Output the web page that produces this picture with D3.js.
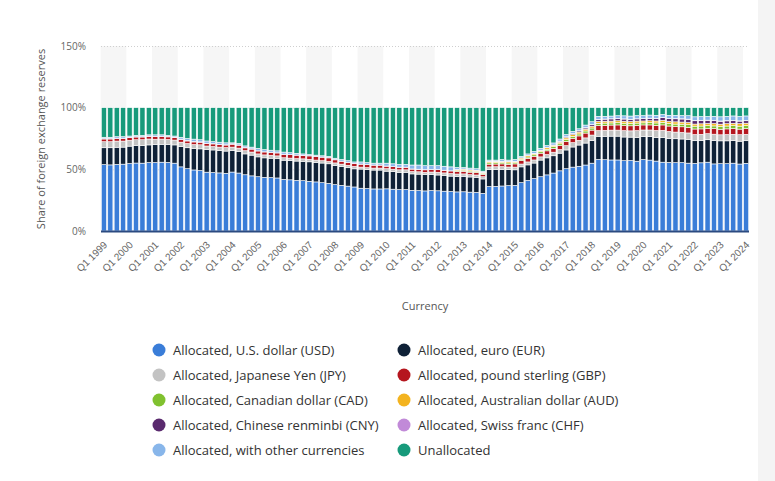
<!DOCTYPE html>
<html>
<head>
<meta charset="utf-8">
<script src="https://cdn.jsdelivr.net/npm/d3@7"></script>
<style>
  html, body { margin: 0; padding: 0; background: #fff; }
  svg { display: block; font-family: "Open Sans", "DejaVu Sans", sans-serif; }
</style>
</head>
<body>
<svg id="chart" width="775" height="481"></svg>
<script>
// ---------- DATA (share of total foreign exchange reserves, %) ----------
const years = [1999,2000,2001,2002,2003,2004,2005,2006,2007,2008,2009,2010,2011,2012,2013,2014,2015,2016,2017,2018,2019,2020,2021,2022,2023,2024];
const quarters = ["Q1","Q2","Q3","Q4"];
const tickLabels = ["Q1 1999","Q1 2000","Q1 2001","Q1 2002","Q1 2003","Q1 2004","Q1 2005","Q1 2006","Q1 2007","Q1 2008","Q1 2009","Q1 2010","Q1 2011","Q1 2012","Q1 2013","Q1 2014","Q1 2015","Q1 2016","Q1 2017","Q1 2018","Q1 2019","Q1 2020","Q1 2021","Q1 2022","Q1 2023","Q1 2024"];
const yTicks = [0, 50, 100, 150];

const usd = [
53.8,53.6,54.0,54.2, 54.7,55.1,55.0,55.5, 55.5,55.8,55.6,55.0, 52.0,50.5,49.5,49.0,
47.7,47.4,47.1,46.8, 47.8,47.0,45.6,44.7, 44.0,43.5,43.3,43.0, 41.8,41.5,41.0,40.8,
40.3,39.8,39.2,38.6, 37.6,37.0,36.4,35.7, 34.7,34.4,34.1,34.1, 34.2,33.9,33.6,33.6,
33.0,32.8,32.5,32.8, 32.6,32.3,32.0,31.7, 31.8,31.5,31.3,30.5, 36.0,36.2,36.5,36.8,
37.0,39.2,41.0,42.5, 44.0,45.5,47.0,48.8, 50.5,51.8,52.5,53.5, 55.0,58.0,57.8,57.6,
57.6,57.0,57.2,56.6, 57.9,57.5,56.7,55.8, 55.6,55.4,55.5,55.0, 54.8,55.3,55.8,54.4,
54.6,54.6,55.0,54.3, 54.9];
const eur = [
13.7,13.9,13.9,13.8, 14.1,14.2,14.3,14.3, 14.6,14.5,14.6,14.8, 16.5,17.0,17.3,17.6,
18.4,18.3,18.1,18.0, 17.5,17.5,16.9,16.8, 16.1,15.8,15.7,15.6, 15.6,15.6,15.7,15.7,
15.8,15.8,15.9,15.9, 15.5,15.2,14.9,14.7, 15.5,15.4,15.3,15.3, 14.3,14.2,14.0,14.0,
13.3,13.3,13.2,13.1, 12.8,12.7,12.5,12.4, 12.5,12.3,12.2,11.7, 13.8,13.7,13.5,13.0,
12.6,12.8,12.6,12.6, 13.5,13.8,14.0,14.3, 15.2,16.3,17.2,17.8, 18.4,18.8,19.0,19.3,
19.3,19.2,18.9,19.3, 18.7,19.0,19.2,20.1, 19.5,19.4,19.1,19.3, 18.4,18.2,18.2,19.0,
18.5,18.5,18.3,18.5, 18.3];
const jpy = [
4.9,4.9,5.0,4.9, 4.7,4.7,4.7,4.8, 4.3,4.2,4.0,3.9, 3.5,3.4,3.3,3.3,
2.8,2.8,2.8,2.8, 2.7,2.7,2.6,2.5, 2.4,2.4,2.4,2.3, 2.0,2.0,2.0,2.0,
2.0,1.9,1.9,1.9, 2.1,2.0,2.0,2.0, 1.6,1.6,1.6,1.6, 2.0,2.0,2.0,2.0,
1.9,1.9,1.9,1.9, 2.2,2.1,2.1,2.1, 2.0,1.9,1.9,1.8, 2.2,2.2,2.2,2.1,
2.2,2.3,2.4,2.5, 2.6,2.7,2.9,3.0, 3.5,3.6,3.8,4.2, 4.4,4.6,4.8,4.9,
4.9,5.2,5.1,5.5, 5.3,5.4,5.6,5.7, 5.6,5.4,5.3,5.2, 5.0,4.9,4.9,5.1,
4.9,5.1,5.1,5.3, 5.2];
const gbp = [
2.2,2.2,2.2,2.2, 2.2,2.2,2.2,2.2, 2.2,2.2,2.1,2.1, 2.2,2.1,2.1,2.1,
2.1,2.1,2.1,2.1, 2.4,2.4,2.3,2.4, 2.4,2.4,2.4,2.4, 2.8,2.8,2.8,2.8,
2.8,2.9,2.9,2.9, 2.5,2.4,2.4,2.4, 2.4,2.4,2.4,2.4, 2.1,2.1,2.1,2.1,
2.0,2.0,2.0,2.0, 2.1,2.1,2.1,2.1, 2.1,2.0,2.0,1.9, 2.2,2.2,2.2,2.2,
2.6,2.8,2.9,3.0, 3.0,3.0,3.1,3.2, 3.4,3.5,3.6,3.9, 4.0,4.1,4.1,4.1,
4.2,4.2,4.1,4.3, 4.1,4.1,4.2,4.4, 4.4,4.5,4.6,4.5, 4.5,4.4,4.2,4.5,
4.5,4.6,4.6,4.5, 4.6];
const cad = [
0,0,0,0, 0,0,0,0, 0,0,0,0, 0,0,0,0,
0,0,0,0, 0,0,0,0, 0,0,0,0, 0,0,0,0,
0,0,0,0, 0,0,0,0, 0,0,0,0, 0,0,0,0,
0,0,0,0, 0,0,0,0.7, 0.9,0.9,0.9,0.9, 1.1,1.1,1.1,1.1,
1.0,1.1,1.1,1.2, 1.2,1.3,1.4,1.4, 1.5,1.5,1.6,1.7, 1.7,1.8,1.8,1.7,
1.8,1.8,1.8,1.8, 1.7,1.8,1.9,2.0, 2.0,2.0,2.1,2.2, 2.3,2.3,2.3,2.2,
2.2,2.3,2.4,2.4, 2.4];
const aud = [
0,0,0,0, 0,0,0,0, 0,0,0,0, 0,0,0,0,
0,0,0,0, 0,0,0,0, 0,0,0,0, 0,0,0,0,
0,0,0,0, 0,0,0,0, 0,0,0,0, 0,0,0,0,
0,0,0,0, 0,0,0,0.8, 0.9,0.9,0.9,0.8, 1.0,1.0,1.0,1.0,
1.0,1.0,1.1,1.1, 1.1,1.2,1.2,1.3, 1.4,1.4,1.5,1.5, 1.5,1.5,1.5,1.5,
1.6,1.6,1.6,1.6, 1.5,1.6,1.6,1.7, 1.7,1.8,1.7,1.7, 1.7,1.8,1.8,1.9,
1.9,1.9,1.9,2.0, 2.0];
const cny = [
0,0,0,0, 0,0,0,0, 0,0,0,0, 0,0,0,0,
0,0,0,0, 0,0,0,0, 0,0,0,0, 0,0,0,0,
0,0,0,0, 0,0,0,0, 0,0,0,0, 0,0,0,0,
0,0,0,0, 0,0,0,0, 0,0,0,0, 0,0,0,0,
0,0,0,0, 0,0,0,0.8, 0.8,0.9,1.0,1.0, 1.2,1.7,1.7,1.8,
1.8,1.8,1.8,1.8, 1.9,1.9,2.0,2.2, 2.3,2.5,2.5,2.6, 2.7,2.6,2.5,2.5,
2.4,2.3,2.2,2.1, 2.0];
const chf = [
0.2,0.2,0.2,0.2, 0.2,0.2,0.2,0.2, 0.2,0.2,0.2,0.2, 0.3,0.3,0.3,0.3,
0.2,0.2,0.2,0.2, 0.2,0.2,0.2,0.2, 0.1,0.1,0.1,0.1, 0.1,0.1,0.1,0.1,
0.1,0.1,0.1,0.1, 0.1,0.1,0.1,0.1, 0.1,0.1,0.1,0.1, 0.1,0.1,0.1,0.1,
0.1,0.1,0.1,0.1, 0.1,0.1,0.1,0.1, 0.1,0.1,0.1,0.1, 0.1,0.1,0.1,0.1,
0.1,0.1,0.1,0.1, 0.1,0.2,0.1,0.1, 0.1,0.1,0.1,0.2, 0.2,0.1,0.1,0.1,
0.1,0.1,0.1,0.1, 0.1,0.2,0.2,0.2, 0.2,0.2,0.2,0.2, 0.2,0.2,0.2,0.2,
0.2,0.2,0.2,0.2, 0.2];
const other = [
1.2,1.2,1.2,1.2, 1.1,1.1,1.1,1.0, 1.2,1.1,1.0,1.0, 1.5,1.7,2.0,1.7,
1.8,1.7,1.7,1.6, 0.9,1.2,1.4,1.4, 2.0,1.8,1.6,1.6, 1.7,1.5,1.4,1.1,
1.0,1.0,1.0,1.1, 1.2,1.3,1.2,1.1, 1.7,1.6,1.5,1.5, 2.3,2.2,2.2,2.2,
3.2,3.4,3.3,3.1, 3.2,3.2,3.2,1.6, 1.2,1.4,1.2,0.8, 1.1,1.0,1.4,1.2,
1.5,1.2,1.3,1.5, 1.5,1.6,1.7,1.7, 1.8,1.7,1.6,2.1, 2.2,2.4,2.2,2.2,
2.2,2.5,2.6,2.6, 2.4,2.5,2.4,2.4, 2.5,2.6,2.6,2.8, 3.0,3.1,3.0,3.2,
3.4,3.5,3.6,3.6, 3.7];
const unallocated = [
24.0,24.0,23.5,23.5, 23.0,22.5,22.5,22.0, 22.0,22.0,22.5,23.0, 24.0,25.0,25.5,26.0,
27.0,27.5,28.0,28.5, 28.5,29.0,31.0,32.0, 33.0,34.0,34.5,35.0, 36.0,36.5,37.0,37.5,
38.0,38.5,39.0,39.5, 41.0,42.0,43.0,44.0, 44.0,44.5,45.0,45.0, 45.0,45.5,46.0,46.0,
46.5,46.5,47.0,47.0, 47.0,47.5,48.0,48.5, 48.5,49.0,49.5,51.5, 42.5,42.5,42.0,42.5,
42.0,39.5,37.5,35.5, 33.0,30.7,28.6,25.4, 21.8,19.2,17.1,14.1, 11.4,7.0,7.0,6.8,
6.5,6.6,6.8,6.4, 6.4,6.0,6.2,5.5, 6.2,6.2,6.4,6.5, 7.4,7.2,7.1,7.0,
7.4,7.0,6.7,7.1, 6.7];

const seriesNames = [
  "Allocated, U.S. dollar (USD)", "Allocated, euro (EUR)",
  "Allocated, Japanese Yen (JPY)", "Allocated, pound sterling (GBP)",
  "Allocated, Canadian dollar (CAD)", "Allocated, Australian dollar (AUD)",
  "Allocated, Chinese renminbi (CNY)", "Allocated, Swiss franc (CHF)",
  "Allocated, with other currencies", "Unallocated"];
const seriesValues = [usd, eur, jpy, gbp, cad, aud, cny, chf, other, unallocated];
const seriesColors = ["#3a7dd8","#0f2137","#c3c3c3","#b5161e","#80c12f","#f3b31f","#5a2a6e","#c18ad8","#88b6ea","#179a7b"];

// categories: "Q1 1999" ... "Q1 2024"
const categories = [];
years.forEach(y => quarters.forEach(q => { if (categories.length < usd.length) categories.push(q + " " + y); }));

// ---------- TABLE ----------
const keys = seriesNames.map((n, i) => "s" + i);
const table = categories.map((c, i) => {
  const row = { cat: c };
  keys.forEach((k, j) => row[k] = seriesValues[j][i]);
  return row;
});

// ---------- CHART ----------
const svg = d3.select("#chart");
const plot = { left: 101, right: 749, top: 46, bottom: 231 };

const x = d3.scaleBand().domain(categories).range([plot.left, plot.right]).paddingInner(0.2).paddingOuter(0.05);
const y = d3.scaleLinear().domain([0, 150]).range([plot.bottom, plot.top]);

// right gray strip of the screenshot
svg.append("rect").attr("x", 758).attr("y", 0).attr("width", 17).attr("height", 481).attr("fill", "#f4f4f4");

// alternating year bands
const step = x.step();
const halfGap = step * x.paddingInner() / 2;
years.forEach((yr, j) => {
  if (j % 2 !== 0) return;
  const first = categories[j * 4];
  const lastIdx = Math.min(j * 4 + 3, categories.length - 1);
  const last = categories[lastIdx];
  if (!first) return;
  svg.append("rect")
    .attr("x", x(first) - halfGap)
    .attr("y", y(150))
    .attr("width", x(last) + x.bandwidth() + halfGap - (x(first) - halfGap))
    .attr("height", y(0) - y(150))
    .attr("fill", "#f6f6f6");
});

// gridlines (dotted)
svg.append("g").selectAll("line").data(yTicks.filter(t => t > 0)).join("line")
  .attr("x1", plot.left).attr("x2", plot.right)
  .attr("y1", d => y(d) + 0.5).attr("y2", d => y(d) + 0.5)
  .attr("stroke", "#cfcfcf").attr("stroke-dasharray", "1,2").attr("stroke-width", 1);

// stacked bars
const stack = d3.stack().keys(keys).order(d3.stackOrderNone).offset(d3.stackOffsetNone);
const stacked = stack(table);
svg.append("g").selectAll("g").data(stacked).join("g")
  .attr("fill", (d, i) => seriesColors[i])
  .selectAll("rect").data(d => d.filter(p => p[1] - p[0] > 0)).join("rect")
  .attr("x", d => x(d.data.cat))
  .attr("width", x.bandwidth())
  .attr("y", d => y(d[1]))
  .attr("height", d => Math.max(0, y(d[0]) - y(d[1])))
  .attr("stroke", "#ffffff").attr("stroke-width", 0.6);

// baseline axis
svg.append("line")
  .attr("x1", plot.left).attr("x2", plot.right)
  .attr("y1", y(0) + 0.5).attr("y2", y(0) + 0.5)
  .attr("stroke", "#2b4a80").attr("stroke-width", 2);

// y axis labels
const yAxis = d3.axisLeft(y).tickValues(yTicks).tickFormat(d => d + "%").tickSize(0).tickPadding(0);
const yg = svg.append("g").attr("transform", `translate(86,0)`).call(yAxis);
yg.select(".domain").remove();
yg.selectAll("text").attr("fill", "#666").attr("font-size", "10px")
  .attr("font-family", '"Open Sans", sans-serif');

// y axis title
svg.append("text")
  .attr("transform", `translate(45,139) rotate(-90)`)
  .attr("text-anchor", "middle")
  .attr("fill", "#555").attr("font-size", "11px")
  .text("Share of foreign exchange reserves");

// x axis labels (every Q1)
const xAxis = d3.axisBottom(x).tickValues(tickLabels).tickSize(0).tickPadding(0);
const xg = svg.append("g").attr("transform", `translate(0,${y(0) + 12})`).call(xAxis);
xg.select(".domain").remove();
xg.selectAll("text")
  .attr("fill", "#666").attr("font-size", "10px")
  .attr("text-anchor", "end")
  .attr("dy", "0.35em")
  .attr("transform", function() { return `translate(${x.bandwidth()/2 - 1},0) rotate(-45)`; });

// x axis title
svg.append("text")
  .attr("x", 425).attr("y", 310)
  .attr("text-anchor", "middle")
  .attr("fill", "#555").attr("font-size", "11px")
  .text("Currency");

// legend
const legendCols = [159, 404];
const legendRows = [350, 375, 400, 425, 450];
const lg = svg.append("g");
seriesNames.forEach((name, i) => {
  const cx = legendCols[i % 2];
  const cy = legendRows[Math.floor(i / 2)];
  lg.append("circle").attr("cx", cx).attr("cy", cy).attr("r", 6.5).attr("fill", seriesColors[i]);
  lg.append("text").attr("x", cx + 14).attr("y", cy).attr("dy", "0.35em")
    .attr("fill", "#333").attr("font-size", "13px").text(name);
});
</script>
</body>
</html>
